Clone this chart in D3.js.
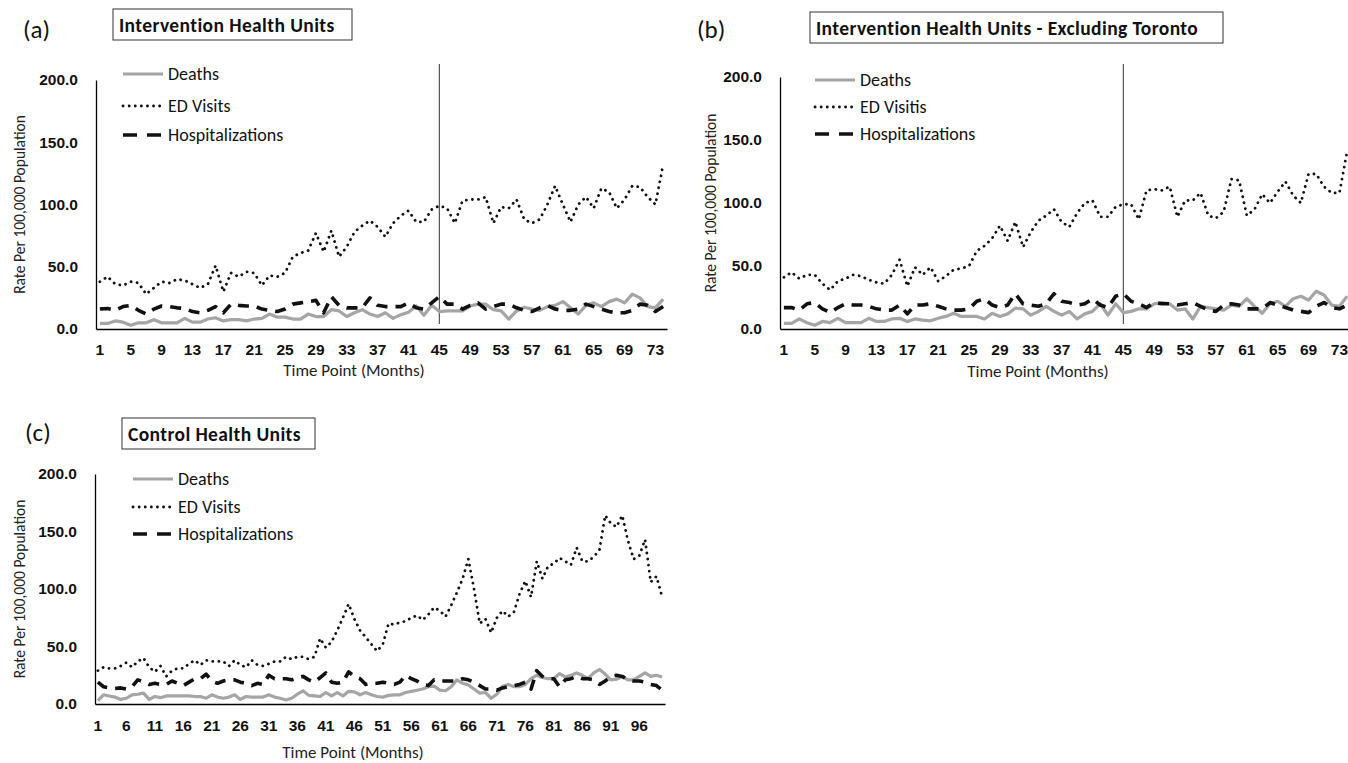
<!DOCTYPE html>
<html>
<head>
<meta charset="utf-8">
<script src="https://cdn.jsdelivr.net/npm/d3@7"></script>
<style>
  body { margin: 0; background: #fff; }
  svg { display: block; font-family: "Carlito", "Lato", "Open Sans", sans-serif; }
  .tick text { font-weight: bold; font-size: 15.5px; fill: #111; }
</style>
</head>
<body>
<svg id="chart" width="1348" height="763"></svg>
<script>
// months (categories)
var monthsAB = d3.range(1, 75);
var monthsC = d3.range(1, 101);
var yTicks = [0, 50, 100, 150, 200];
var seriesNames = ["Deaths", "ED Visits", "Hospitalizations"];
var seriesNamesB = ["Deaths", "ED Visitis", "Hospitalizations"];

// (a) Intervention Health Units
var edA = [38, 42, 36, 35, 38, 37, 28, 33, 38, 37,
  40, 39, 36, 33, 36, 51, 30, 45, 42, 46,
  45, 35, 43, 42, 45, 58, 61, 63, 77, 62,
  79, 58, 66, 78, 83, 87, 82, 74, 85, 91,
  95, 86, 86, 96, 99, 97, 85, 103, 104, 104,
  106, 85, 98, 97, 104, 88, 85, 88, 100, 115,
  100, 86, 100, 106, 97, 113, 110, 97, 104, 115,
  114, 106, 100, 132];
var deathsA = [4.5, 4.5, 6.5, 5.5, 3, 5, 5, 7.5, 5, 5,
  5, 8.5, 5.5, 5.5, 8, 9, 6.5, 7.5, 7.5, 6.5,
  8, 8.5, 12, 9.5, 9.5, 8, 8, 12, 10, 10,
  15.5, 14.5, 10, 13, 15.5, 12, 10, 13, 8.5, 11.5,
  13.5, 18.5, 11, 19, 14, 14.5, 14.5, 14.5, 18.5, 20,
  20, 15.5, 14.5, 8, 14.5, 17.5, 16, 15, 18, 19,
  22, 17, 12, 19, 21, 18, 22, 24, 21, 28,
  25, 18, 17, 24];
var hospA = [16, 16.5, 15, 18, 19, 15, 12, 16, 18.5, 18,
  17, 16.5, 14, 13, 15, 18, 13, 20, 19, 18.5,
  18.5, 16, 15, 14, 16, 20, 21, 22, 23, 13,
  26, 19, 17, 17, 17, 25, 19, 18, 18, 18,
  21, 17, 16, 21, 26, 20, 20, 16, 19, 21,
  16, 18, 20, 20, 17, 15, 14, 17, 19, 16,
  15, 15, 16, 20, 18, 16, 14, 13, 13, 15,
  20, 19, 14, 18];

// (b) Intervention Health Units - Excluding Toronto
var edB = [41, 45, 40, 43, 43, 36, 31, 38, 40, 43,
  42, 39, 37, 36, 43, 55, 34, 49, 43, 49,
  38, 42, 47, 48, 50, 62, 66, 72, 82, 70,
  85, 65, 77, 86, 90, 95, 85, 81, 92, 100,
  102, 89, 89, 97, 99, 99, 87, 110, 111, 110,
  113, 89, 102, 102, 108, 90, 88, 93, 119, 118,
  90, 95, 107, 100, 109, 117, 106, 100, 123, 123,
  113, 108, 108, 141];
var deathsB = [4.5, 4.5, 8, 5, 3, 6, 5, 8.5, 5, 5,
  5, 8.5, 6, 6, 8, 8.5, 6, 8, 7, 6.5,
  8.5, 10, 12.5, 10, 10, 10, 8, 12.5, 10, 12,
  16.5, 16, 11, 14, 18, 14, 11, 14, 8, 12,
  14, 20, 11, 20, 13, 14, 16, 16, 20, 21,
  20, 15, 16, 8, 18, 17, 16, 15, 19, 18,
  24, 18, 12.5, 20, 22, 18, 24, 26, 23, 30,
  27, 19, 18, 26];
var hospB = [17, 17, 15, 20, 21, 16, 13, 17, 20, 19,
  19, 18, 16, 15, 15, 19, 12, 19, 19, 20,
  18, 16, 15, 15, 16, 22, 24, 19, 17, 19,
  28, 20, 19, 18, 20, 28, 22, 21, 19, 20,
  24, 19, 17, 26, 28, 22, 20, 17, 21, 20,
  20, 19, 20, 21, 18, 15, 14, 19, 20, 19,
  16, 16, 16, 21, 19, 17, 15, 14, 13, 18,
  21, 17, 16, 19];

// (c) Control Health Units
var edC = [29, 32, 31, 31, 33, 36, 32, 37, 40, 32,
  28, 33, 24, 29, 31, 31, 35, 38, 34, 38,
  37, 37, 37, 33, 38, 34, 32, 38, 34, 33,
  35, 37, 37, 41, 39, 41, 41, 39, 41, 57,
  49, 54, 64, 75, 87, 74, 64, 58, 52, 46,
  52, 70, 69, 71, 72, 75, 77, 73, 78, 84,
  81, 76, 86, 97, 109, 126, 100, 70, 74, 62,
  75, 81, 76, 80, 96, 107, 93, 124, 109, 120,
  122, 127, 124, 121, 136, 124, 124, 128, 134, 164,
  157, 154, 164, 142, 126, 129, 143, 106, 111, 93];
var deathsC = [3, 8, 7, 6, 4, 5, 8, 8.5, 9.5, 4,
  6.5, 5.5, 7, 7, 7, 7, 7, 6.5, 6.5, 5,
  8, 6, 5, 6, 8, 4, 6.5, 6, 6, 6,
  8, 6, 5, 3.5, 5, 8.5, 11.5, 7.5, 7, 6.5,
  10, 7, 10, 7, 11, 10.5, 8, 10, 8, 6.5,
  6, 7.5, 8, 8, 10, 11, 12, 13, 15, 15.5,
  12, 11.5, 15, 21, 18, 16.5, 13, 9.5, 10, 5,
  8.5, 15.5, 17, 15, 15, 17, 22, 25, 23, 22,
  22, 26.5, 23.5, 25, 27, 25, 22, 27, 30, 26,
  21, 21.5, 24, 21, 21, 24, 27, 24, 25, 23.5];
var hospC = [19, 15, 14, 13.5, 14, 13, 15, 21, 19.5, 17,
  18, 17, 17, 20, 18, 16, 19, 22, 22, 26,
  20, 18, 20, 21, 21, 19, 18, 16, 18, 17,
  25, 22, 22, 22, 21, 23, 24, 21, 19, 23,
  27, 19, 18, 19, 28, 24, 22, 17, 18, 18,
  19, 18, 17, 19, 25, 22, 20, 17, 16, 21,
  20, 20, 20, 20, 22, 21, 19, 16, 13, 13,
  12, 14, 15, 16, 17, 19, 13, 29, 24, 22,
  22, 15, 21, 22, 24, 22, 22, 21, 17, 20,
  24, 25, 24, 21, 20, 20, 19, 17, 16, 12];

var svg = d3.select("#chart");

var styles = {
  deaths: { stroke: "#a5a5a5", width: 3.2, dash: null, cap: "butt" },
  ed: { stroke: "#111", width: 2.8, dash: "0.1,6", cap: "round" },
  hosp: { stroke: "#111", width: 3.6, dash: "11,8", cap: "butt" }
};

function drawPanel(p) {
  var g = svg.append("g");

  // panel letter and boxed title
  g.append("text").attr("x", p.letterX).attr("y", p.letterY)
    .attr("font-size", 25).attr("fill", "#111").text(p.letter);
  g.append("rect").attr("x", p.box[0]).attr("y", p.box[1])
    .attr("width", p.box[2]).attr("height", p.box[3])
    .attr("fill", "none").attr("stroke", "#333").attr("stroke-width", 1);
  g.append("text").attr("x", p.box[0] + 6).attr("y", p.box[1] + 23)
    .attr("font-size", 19.5).attr("font-weight", "bold").attr("fill", "#111")
    .attr("letter-spacing", 0.4).text(p.title);

  var x = d3.scaleBand().domain(p.months).range([p.left, p.right]).padding(0);
  var y = d3.scaleLinear().domain([0, 200]).range([p.bottom, p.top]);
  var cx = function(m) { return x(m) + x.bandwidth() / 2; };

  // axes
  g.append("g").attr("transform", "translate(0," + p.bottom + ")")
    .call(d3.axisBottom(x).tickValues(p.months.filter(function(m) { return (m - 1) % p.step === 0; }))
      .tickSize(0).tickPadding(p.xPad))
    .call(function(a) { a.select(".domain").attr("stroke", "#000").attr("stroke-width", 1.3); });
  g.append("g").attr("transform", "translate(" + p.left + ",0)")
    .call(d3.axisLeft(y).tickValues(yTicks).tickFormat(d3.format(".1f")).tickSize(0).tickPadding(18))
    .call(function(a) { a.select(".domain").attr("stroke", "#000").attr("stroke-width", 1.3); });

  // axis titles
  g.append("text").attr("x", p.left + 258).attr("y", p.xTitleY)
    .attr("text-anchor", "middle").attr("font-size", 17).attr("fill", "#222")
    .text("Time Point (Months)");
  g.append("text").attr("transform", "translate(" + p.yTitleX + "," + (p.bottom + p.top) / 2 + ") rotate(-90)")
    .attr("text-anchor", "middle").attr("font-size", 15.5).attr("fill", "#222")
    .text("Rate Per 100,000 Population");

  // intervention line
  if (p.vline) {
    g.append("line").attr("x1", cx(p.vline)).attr("x2", cx(p.vline))
      .attr("y1", 64).attr("y2", 324).attr("stroke", "#555").attr("stroke-width", 1.2);
  }

  var line = d3.line().x(function(d, i) { return cx(p.months[i]); }).y(function(d) { return y(d); });
  [["deaths", p.deaths], ["hosp", p.hosp], ["ed", p.ed]].forEach(function(s) {
    var st = styles[s[0]];
    g.append("path").datum(s[1]).attr("d", line)
      .attr("fill", "none").attr("stroke", st.stroke).attr("stroke-width", st.width)
      .attr("stroke-dasharray", st.dash).attr("stroke-linecap", st.cap)
      .attr("stroke-linejoin", "round");
  });

  // legend
  var keys = ["deaths", "ed", "hosp"];
  keys.forEach(function(k, i) {
    var st = styles[k];
    var ly = p.legY[i];
    g.append("line").attr("x1", p.legX).attr("x2", p.legX + 40).attr("y1", ly).attr("y2", ly)
      .attr("stroke", st.stroke).attr("stroke-width", st.width)
      .attr("stroke-dasharray", k === "hosp" ? "14,10" : st.dash).attr("stroke-linecap", st.cap);
    g.append("text").attr("x", p.legX + 45).attr("y", ly + 6)
      .attr("font-size", 18).attr("fill", "#111").text(p.names[i]);
  });
}

drawPanel({
  letter: "(a)", letterX: 23, letterY: 38,
  box: [113, 9, 239, 31], title: "Intervention Health Units",
  months: monthsAB, step: 4, left: 96, right: 667, top: 80, bottom: 329,
  xPad: 15, xTitleY: 376, yTitleX: 25, vline: 45,
  ed: edA, deaths: deathsA, hosp: hospA,
  legX: 123, legY: [74, 106, 135], names: seriesNames
});

drawPanel({
  letter: "(b)", letterX: 697, letterY: 38,
  box: [810, 12, 413, 31], title: "Intervention Health Units - Excluding Toronto",
  months: monthsAB, step: 4, left: 780, right: 1351, top: 77, bottom: 329,
  xPad: 15, xTitleY: 377, yTitleX: 716, vline: 45,
  ed: edB, deaths: deathsB, hosp: hospB,
  legX: 815, legY: [80, 107, 134], names: seriesNamesB
});

drawPanel({
  letter: "(c)", letterX: 25, letterY: 441,
  box: [122, 418, 193, 31], title: "Control Health Units",
  months: monthsC, step: 5, left: 95, right: 665, top: 474, bottom: 704,
  xPad: 16, xTitleY: 758, yTitleX: 25, vline: null,
  ed: edC, deaths: deathsC, hosp: hospC,
  legX: 133, legY: [479, 507, 534], names: seriesNames
});
</script>
</body>
</html>
